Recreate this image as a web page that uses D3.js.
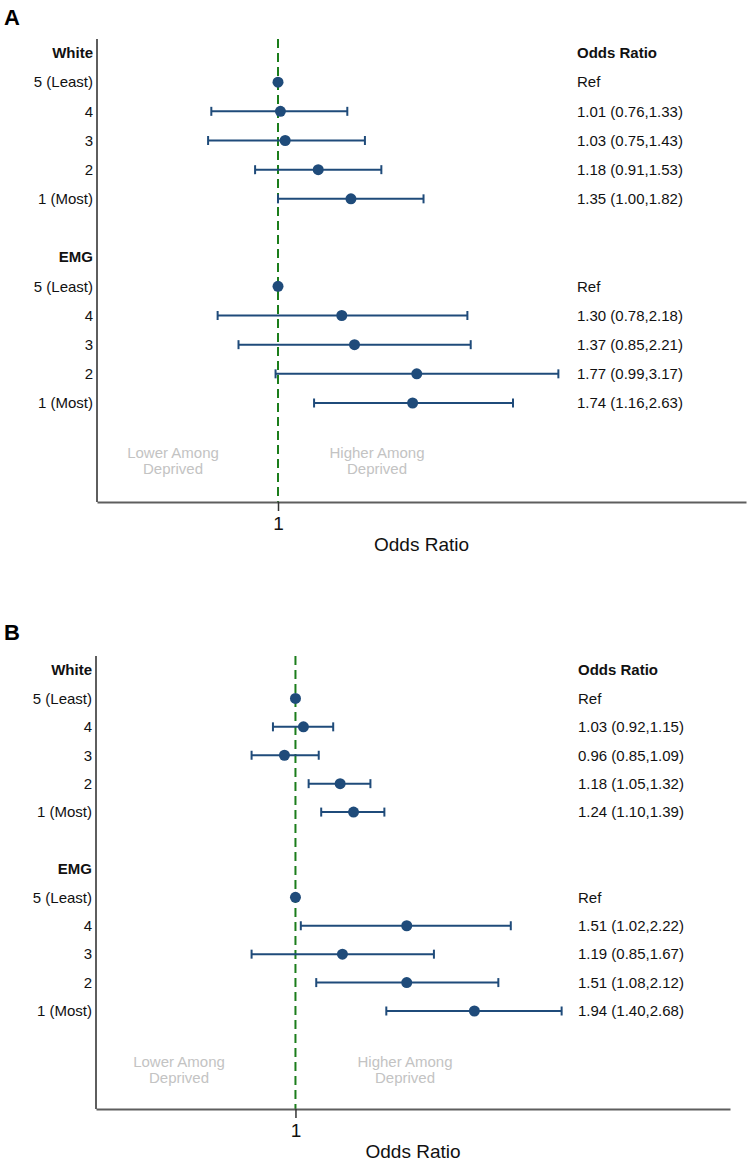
<!DOCTYPE html>
<html>
<head>
<meta charset="utf-8">
<script src="https://cdn.jsdelivr.net/npm/d3@7"></script>
<style>
  html, body { margin: 0; padding: 0; background: #ffffff; }
  svg { display: block; font-family: "Liberation Sans", Arial, sans-serif; }
</style>
</head>
<body>
<svg id="chart" width="750" height="1165"></svg>
<script>
// ---------------- DATA ----------------
const groups = ["White", "EMG"];
const levels = ["5 (Least)", "4", "3", "2", "1 (Most)"];
const tickValues = [1];
const tickLabels = ["1"];
const axisTitle = "Odds Ratio";
const columnTitle = "Odds Ratio";
const regionLabels = [["Lower Among", "Deprived"], ["Higher Among", "Deprived"]];

// Panel A
const aWhiteOR = [1, 1.01, 1.03, 1.18, 1.35];
const aWhiteLo = [null, 0.76, 0.75, 0.91, 1.00];
const aWhiteHi = [null, 1.33, 1.43, 1.53, 1.82];
const aEmgOR   = [1, 1.30, 1.37, 1.77, 1.74];
const aEmgLo   = [null, 0.78, 0.85, 0.99, 1.16];
const aEmgHi   = [null, 2.18, 2.21, 3.17, 2.63];

// Panel B
const bWhiteOR = [1, 1.03, 0.96, 1.18, 1.24];
const bWhiteLo = [null, 0.92, 0.85, 1.05, 1.10];
const bWhiteHi = [null, 1.15, 1.09, 1.32, 1.39];
const bEmgOR   = [1, 1.51, 1.19, 1.51, 1.94];
const bEmgLo   = [null, 1.02, 0.85, 1.08, 1.40];
const bEmgHi   = [null, 2.22, 1.67, 2.12, 2.68];

// ---------------- LAYOUT / STYLE ----------------
const COL_BLUE = "#1f4b7a";
const COL_GREEN = "#1b7d1b";
const COL_AXIS = "#5e5e5e";
const COL_GREY_TXT = "#c3c3c3";
const FS = 15;

const panels = [
  {
    letter: "A", letterY: 25,
    series: [[aWhiteOR, aWhiteLo, aWhiteHi], [aEmgOR, aEmgLo, aEmgHi]],
    xDomain: [0.4748, 6.861], xRange: [97, 746],
    rowRange: [53, 403], axisTop: 39, axisY: 502,
    colX: 577, regionY: 453, regionX: [173, 377]
  },
  {
    letter: "B", letterY: 640,
    series: [[bWhiteOR, bWhiteLo, bWhiteHi], [bEmgOR, bEmgLo, bEmgHi]],
    xDomain: [0.4777, 5.0], xRange: [96, 730],
    rowRange: [670, 1011], axisTop: 656, axisY: 1109,
    colX: 578, regionY: 1062, regionX: [179, 405]
  }
];

const svg = d3.select("#chart");

panels.forEach(p => {
  const g = svg.append("g");
  const x = d3.scaleLog().domain(p.xDomain).range(p.xRange);
  const y = d3.scaleLinear().domain([0, 12]).range(p.rowRange);
  const yAxisX = p.xRange[0];

  // panel letter
  g.append("text").attr("x", 4).attr("y", p.letterY)
    .attr("font-size", 22).attr("font-weight", "bold").attr("fill", "#000")
    .text(p.letter);

  // build rows
  const rows = [];
  groups.forEach((grp, gi) => {
    const base = gi * 7;
    rows.push({ idx: base, label: grp, header: true });
    const [or, lo, hi] = p.series[gi];
    levels.forEach((lv, li) => {
      rows.push({
        idx: base + 1 + li, label: lv, header: false,
        or: or[li], lo: lo[li], hi: hi[li]
      });
    });
  });

  // region labels (grey)
  regionLabels.forEach((lines, ri) => {
    const t = g.append("text").attr("text-anchor", "middle")
      .attr("font-size", FS).attr("fill", COL_GREY_TXT);
    lines.forEach((ln, li) => {
      t.append("tspan").attr("x", p.regionX[ri])
        .attr("y", p.regionY + li * 16).attr("dy", "0.35em").text(ln);
    });
  });

  // reference dashed line at OR = 1
  g.append("line")
    .attr("x1", x(1)).attr("x2", x(1))
    .attr("y1", p.axisTop).attr("y2", p.axisY)
    .attr("stroke", COL_GREEN).attr("stroke-width", 2)
    .attr("stroke-dasharray", "9,5");

  // y axis line
  g.append("line")
    .attr("x1", yAxisX).attr("x2", yAxisX)
    .attr("y1", p.axisTop).attr("y2", p.axisY)
    .attr("stroke", COL_AXIS).attr("stroke-width", 2);

  // x axis
  const xAxis = d3.axisBottom(x)
    .tickValues(tickValues)
    .tickFormat((d, i) => tickLabels[i])
    .tickSize(9).tickSizeOuter(0).tickPadding(6);
  const ax = g.append("g").attr("transform", `translate(0,${p.axisY})`).call(xAxis);
  ax.select(".domain").attr("stroke", COL_AXIS).attr("stroke-width", 2);
  ax.selectAll(".tick line").attr("stroke", "#333").attr("stroke-width", 1.5);
  ax.selectAll(".tick text").attr("font-size", 19).attr("fill", "#111")
    .attr("font-family", "\"Liberation Sans\", Arial, sans-serif");

  // axis title
  g.append("text")
    .attr("x", (p.xRange[0] + p.xRange[1]) / 2)
    .attr("y", p.axisY + 42).attr("dy", "0.35em")
    .attr("text-anchor", "middle").attr("font-size", 19).attr("fill", "#111")
    .text(axisTitle);

  // row labels
  g.selectAll("text.rowlab").data(rows).join("text")
    .attr("class", "rowlab")
    .attr("x", yAxisX - 4).attr("y", d => y(d.idx)).attr("dy", "0.35em")
    .attr("text-anchor", "end").attr("font-size", FS)
    .attr("font-weight", d => d.header ? "bold" : "normal")
    .attr("fill", "#111")
    .text(d => d.label);

  // column header
  g.append("text").attr("x", p.colX).attr("y", y(0)).attr("dy", "0.35em")
    .attr("font-size", FS).attr("font-weight", "bold").attr("fill", "#111")
    .text(columnTitle);

  const dataRows = rows.filter(d => !d.header);

  // OR text
  g.selectAll("text.ortxt").data(dataRows).join("text")
    .attr("class", "ortxt")
    .attr("x", p.colX).attr("y", d => y(d.idx)).attr("dy", "0.35em")
    .attr("font-size", FS).attr("fill", "#111")
    .text(d => d.lo == null ? "Ref"
      : `${d.or.toFixed(2)} (${d.lo.toFixed(2)},${d.hi.toFixed(2)})`);

  const ciRows = dataRows.filter(d => d.lo != null);
  const cap = 4.5;

  // CI lines
  g.selectAll("line.ci").data(ciRows).join("line")
    .attr("class", "ci")
    .attr("x1", d => x(d.lo)).attr("x2", d => x(d.hi))
    .attr("y1", d => y(d.idx)).attr("y2", d => y(d.idx))
    .attr("stroke", COL_BLUE).attr("stroke-width", 2);
  g.selectAll("line.capL").data(ciRows).join("line")
    .attr("class", "capL")
    .attr("x1", d => x(d.lo)).attr("x2", d => x(d.lo))
    .attr("y1", d => y(d.idx) - cap).attr("y2", d => y(d.idx) + cap)
    .attr("stroke", COL_BLUE).attr("stroke-width", 2);
  g.selectAll("line.capR").data(ciRows).join("line")
    .attr("class", "capR")
    .attr("x1", d => x(d.hi)).attr("x2", d => x(d.hi))
    .attr("y1", d => y(d.idx) - cap).attr("y2", d => y(d.idx) + cap)
    .attr("stroke", COL_BLUE).attr("stroke-width", 2);

  // points
  g.selectAll("circle.pt").data(dataRows).join("circle")
    .attr("class", "pt")
    .attr("cx", d => x(d.or)).attr("cy", d => y(d.idx))
    .attr("r", 5.5).attr("fill", COL_BLUE);
});
</script>
</body>
</html>
